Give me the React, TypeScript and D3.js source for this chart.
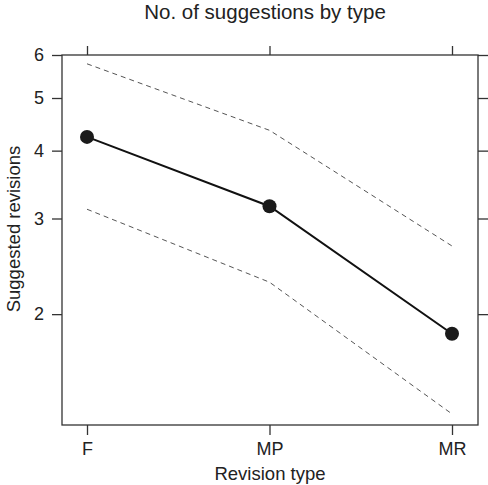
import React, { useEffect, useRef } from "react";
import * as d3 from "d3";

const categories = ["F", "MP", "MR"];
const fitValues = [4.24, 3.16, 1.84];
const upperValues = [5.78, 4.36, 2.67];
const lowerValues = [3.12, 2.29, 1.31];
const yTicks = [2, 3, 4, 5, 6];

const W = 488;
const H = 485;

const App = () => {
    const svgRef = useRef<SVGSVGElement>(null);

    useEffect(() => {
        const svg = d3.select(svgRef.current);
        svg.selectAll("*").remove();

        const left = 62, right = 478, top = 55, bottom = 425;
        const font = "'Liberation Sans', Arial, sans-serif";

        const x = d3.scalePoint<string>()
            .domain(categories)
            .range([87, 452]);

        const y = d3.scaleLog()
            .domain([1.25, 6])
            .range([bottom, top]);

        // title
        svg.append("text")
            .attr("x", 265)
            .attr("y", 19)
            .attr("text-anchor", "middle")
            .style("font-family", font)
            .style("font-size", "20.5px")
            .attr("fill", "#222")
            .text("No. of suggestions by type");

        // frame
        svg.append("rect")
            .attr("x", left)
            .attr("y", top)
            .attr("width", right - left)
            .attr("height", bottom - top)
            .attr("fill", "none")
            .attr("stroke", "#333")
            .attr("stroke-width", 1.3);

        // bottom axis
        const gx = svg.append("g")
            .attr("transform", `translate(0, ${bottom})`)
            .call(d3.axisBottom(x).tickSize(10).tickPadding(7));
        gx.select(".domain").remove();
        gx.selectAll("line").attr("stroke", "#333").attr("stroke-width", 1.3);
        gx.selectAll("text")
            .style("font-family", font)
            .style("font-size", "18px")
            .attr("fill", "#222");

        // top axis ticks
        const gxt = svg.append("g")
            .attr("transform", `translate(0, ${top})`)
            .call(d3.axisTop(x).tickSize(9).tickFormat(() => ""));
        gxt.select(".domain").remove();
        gxt.selectAll("line").attr("stroke", "#333").attr("stroke-width", 1.3);

        // left axis
        const gy = svg.append("g")
            .attr("transform", `translate(${left}, 0)`)
            .call(d3.axisLeft(y).tickValues(yTicks).tickFormat(d3.format("d")).tickSize(10).tickPadding(8));
        gy.select(".domain").remove();
        gy.selectAll("line").attr("stroke", "#333").attr("stroke-width", 1.3);
        gy.selectAll("text")
            .style("font-family", font)
            .style("font-size", "18px")
            .attr("fill", "#222");

        // right axis ticks
        const gyr = svg.append("g")
            .attr("transform", `translate(${right}, 0)`)
            .call(d3.axisRight(y).tickValues(yTicks).tickSize(10).tickFormat(() => ""));
        gyr.select(".domain").remove();
        gyr.selectAll("line").attr("stroke", "#333").attr("stroke-width", 1.3);

        // axis labels
        svg.append("text")
            .attr("x", 270)
            .attr("y", 480)
            .attr("text-anchor", "middle")
            .style("font-family", font)
            .style("font-size", "18.5px")
            .attr("fill", "#222")
            .text("Revision type");

        svg.append("text")
            .attr("transform", `translate(20, 229) rotate(-90)`)
            .attr("text-anchor", "middle")
            .style("font-family", font)
            .style("font-size", "18.5px")
            .attr("fill", "#222")
            .text("Suggested revisions");

        // confidence bands
        const band = d3.line<number>()
            .x((_, i) => x(categories[i]) as number)
            .y(d => y(d));

        [upperValues, lowerValues].forEach(vals => {
            svg.append("path")
                .attr("d", band(vals))
                .attr("fill", "none")
                .attr("stroke", "#555")
                .attr("stroke-width", 1)
                .attr("stroke-dasharray", "5,4")
                .attr("stroke-linejoin", "round");
        });

        // fit line
        const fit = d3.line<number>()
            .x((_, i) => x(categories[i]) as number)
            .y(d => y(d));

        svg.append("path")
            .attr("d", fit(fitValues))
            .attr("fill", "none")
            .attr("stroke", "#111")
            .attr("stroke-width", 2);

        svg.selectAll("circle.pt")
            .data(fitValues)
            .enter()
            .append("circle")
            .attr("class", "pt")
            .attr("cx", (_, i) => x(categories[i]) as number)
            .attr("cy", d => y(d))
            .attr("r", 7)
            .attr("fill", "#1a1a1a");
    }, []);

    return (
        <svg
            ref={svgRef}
            width={W}
            height={H}
            style={{ position: "absolute", left: 0, top: 0, background: "#fff" }}
        ></svg>
    );
};

export default App;
